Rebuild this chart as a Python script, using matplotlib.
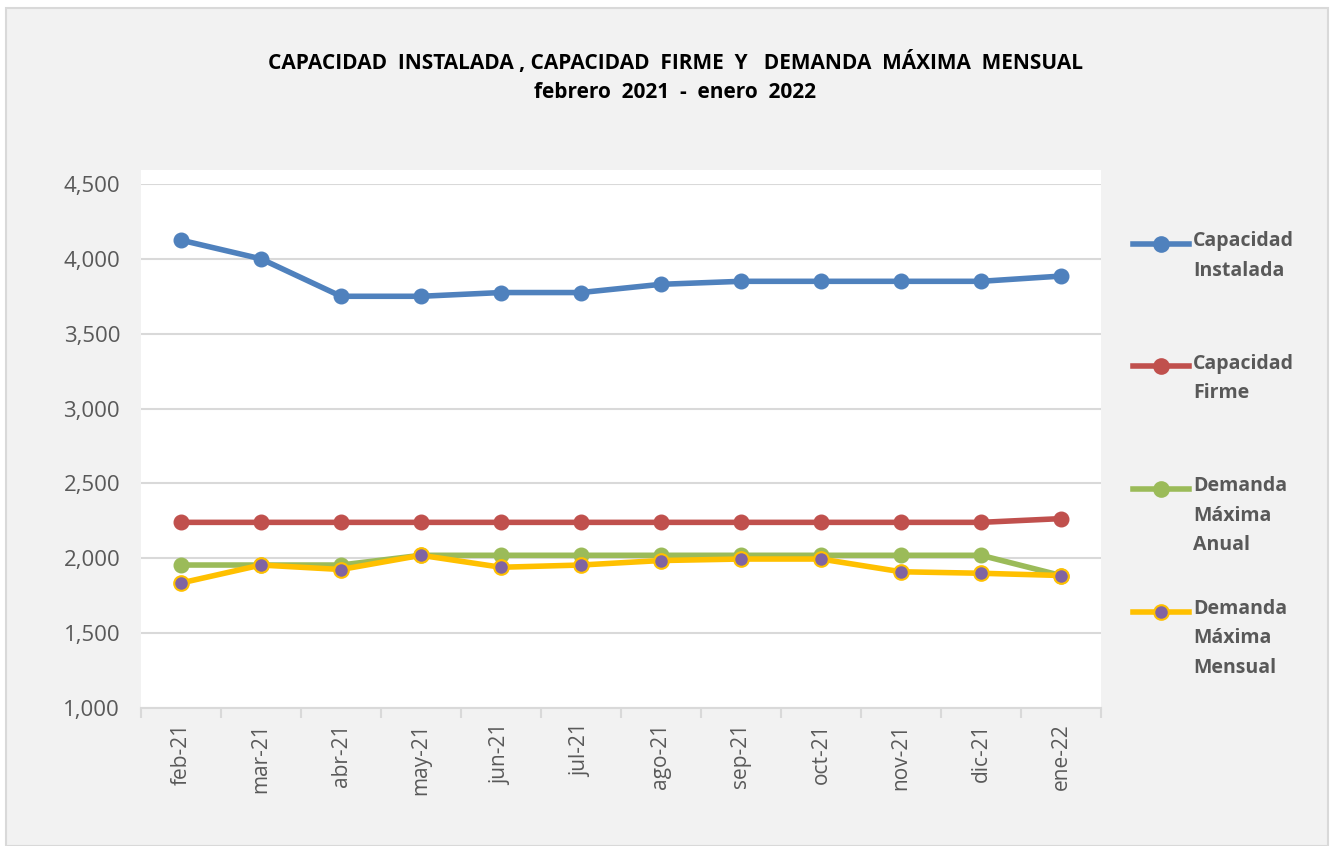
import matplotlib
matplotlib.use('Agg')
import matplotlib.pyplot as plt
from matplotlib.lines import Line2D
from matplotlib.patches import Rectangle
from matplotlib.ticker import FuncFormatter, FixedLocator

# Monthly data (MW)
meses = ['feb-21', 'mar-21', 'abr-21', 'may-21', 'jun-21', 'jul-21',
         'ago-21', 'sep-21', 'oct-21', 'nov-21', 'dic-21', 'ene-22']
cap_instalada = [4125, 4000, 3750, 3750, 3775, 3775, 3830, 3850, 3850, 3850, 3850, 3885]
cap_firme = [2240, 2240, 2240, 2240, 2240, 2240, 2240, 2240, 2240, 2240, 2240, 2265]
dem_anual = [1955, 1955, 1955, 2020, 2020, 2020, 2020, 2020, 2020, 2020, 2020, 1885]
dem_mensual = [1835, 1955, 1925, 2020, 1940, 1955, 1985, 1995, 1995, 1910, 1900, 1885]

etiquetas = ['Capacidad\nInstalada', 'Capacidad\nFirme',
             'Demanda\nMáxima\nAnual', 'Demanda\nMáxima\nMensual']

W, H = 1330, 846
fig = plt.figure(figsize=(W / 100, H / 100), dpi=100, facecolor='white')

# chart area background with light border
fig.add_artist(Rectangle((6 / W, 0), (W - 8) / W, 1 - 8 / H, transform=fig.transFigure,
                         facecolor='#f2f2f2', edgecolor='#d9d9d9', linewidth=1.5, zorder=-10))
# white plot area (a bit taller than the axes, as in Excel)
fig.add_artist(Rectangle((141 / W, 1 - 708 / H), 960 / W, 538 / H, transform=fig.transFigure,
                         facecolor='white', edgecolor='none', zorder=-9))

ax = fig.add_axes([141 / W, 1 - 708 / H, 960 / W, 524 / H])
ax.set_facecolor('none')

x = list(range(len(meses)))
ax.plot(x, cap_instalada, color='#4F81BD', lw=4, marker='o', ms=10.5, zorder=3)
ax.plot(x, cap_firme, color='#C0504D', lw=4, marker='o', ms=10.5, zorder=3)
ax.plot(x, dem_anual, color='#9BBB59', lw=4, marker='o', ms=10.5, zorder=3)
ax.plot(x, dem_mensual, color='#FFC000', lw=4, marker='o', ms=10.5,
        markerfacecolor='#8064A2', markeredgecolor='#FFC000', markeredgewidth=1.5, zorder=4)

ax.set_xlim(-0.5, len(meses) - 0.5)
ax.set_ylim(1000, 4500)
ax.set_yticks(range(1000, 4501, 500))
ax.yaxis.set_major_formatter(FuncFormatter(lambda v, p: '{:,.0f}'.format(v)))
ax.grid(axis='y', color='#d9d9d9', lw=1.5)
ax.set_axisbelow(True)

ax.set_xticks(x)
ax.set_xticklabels(meses, rotation=90)
ax.xaxis.set_minor_locator(FixedLocator([i - 0.5 for i in range(len(meses) + 1)]))
ax.tick_params(axis='x', which='major', length=0, pad=11, labelsize=15, labelcolor='#595959')
ax.tick_params(axis='x', which='minor', length=7, width=1.5, color='#d9d9d9')
ax.tick_params(axis='y', length=0, pad=15, labelsize=16, labelcolor='#595959')
for lab in ax.get_xticklabels() + ax.get_yticklabels():
    lab.set_family('Open Sans')

for s in ['top', 'right', 'left']:
    ax.spines[s].set_visible(False)
ax.spines['bottom'].set_color('#d9d9d9')
ax.spines['bottom'].set_linewidth(1.5)

# title
fig.text(675 / W, 1 - 62 / H, 'CAPACIDAD  INSTALADA , CAPACIDAD  FIRME  Y   DEMANDA  MÁXIMA  MENSUAL',
         ha='center', va='center', fontsize=15, fontweight='bold',
         family='Open Sans', color='black')
fig.text(675 / W, 1 - 92 / H, 'febrero  2021  -  enero  2022',
         ha='center', va='center', fontsize=15, fontweight='bold',
         family='Open Sans', color='black')

# legend drawn by hand so that the key sits on the first text line
claves = [('#4F81BD', '#4F81BD', '#4F81BD'), ('#C0504D', '#C0504D', '#C0504D'),
          ('#9BBB59', '#9BBB59', '#9BBB59'), ('#FFC000', '#8064A2', '#FFC000')]
for i, (etq, (lc, fc, ec)) in enumerate(zip(etiquetas, claves)):
    yc = 1 - (244 + 122.5 * i) / H
    fig.add_artist(Line2D([1133 / W, 1189 / W], [yc, yc], transform=fig.transFigure,
                          color=lc, lw=4))
    fig.add_artist(Line2D([1161 / W], [yc], transform=fig.transFigure, marker='o', ms=10.5,
                          markerfacecolor=fc, markeredgecolor=ec, markeredgewidth=1.5, lw=0))
    fig.text(1193 / W, yc + 13 / H, etq, ha='left', va='top', fontsize=14, fontweight='bold',
             family='Open Sans', color='#595959', linespacing=1.65)

fig.savefig('out.png', dpi=100, facecolor=fig.get_facecolor())
